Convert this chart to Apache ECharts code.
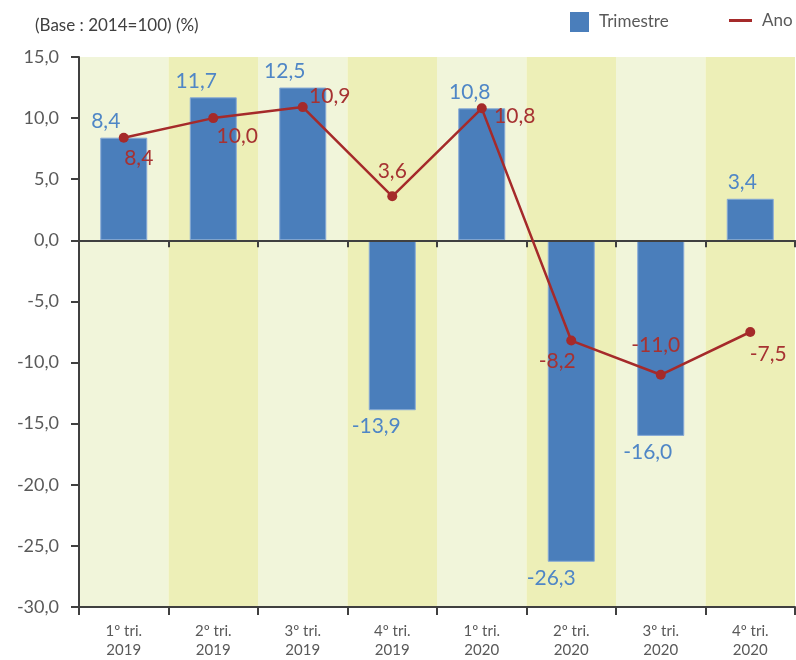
<!DOCTYPE html>
<html>
<head>
<meta charset="utf-8">
<script src="https://cdn.jsdelivr.net/npm/echarts@6/dist/echarts.min.js"></script>
<style>
  html, body { margin: 0; padding: 0; background: #ffffff; }
  #chart { width: 796px; height: 660px; }
</style>
</head>
<body>
<div id="chart"></div>
<script>
// Quarters shown on the category axis
const quarters = ['1º tri.\n2019', '2º tri.\n2019', '3º tri.\n2019', '4º tri.\n2019',
                  '1º tri.\n2020', '2º tri.\n2020', '3º tri.\n2020', '4º tri.\n2020'];

// Quarter-on-quarter change (%)
const trimestre = [8.4, 11.7, 12.5, -13.9, 10.8, -26.3, -16.0, 3.4];

// Year-on-year change (%)
const ano = [8.4, 10.0, 10.9, 3.6, 10.8, -8.2, -11.0, -7.5];

// Value axis range and step
const yMin = -30, yMax = 15, yStep = 5;

// Label placement tweaks (pixel offsets from each mark)
const barLabelShift = [-18, -17, -18, -16, -12, -20, -13, -8];
const anoLabelShift = [[15, 21], [24, 18], [27, -11], [0, -25], [33, 8], [-14, 21], [-5, -30], [18, 22]];

const FONT = 'Lato';
const fmt = v => Number(v).toFixed(1).replace('.', ',');

const barData = trimestre.map((v, i) => ({
  value: v,
  label: {
    position: v < 0 ? 'bottom' : 'top',
    offset: [barLabelShift[i], 0]
  }
}));

const lineData = ano.map((v, i) => ({
  value: v,
  label: { offset: anoLabelShift[i] }
}));

const chart = echarts.init(document.getElementById('chart'), null, { renderer: 'canvas' });

chart.setOption({
  animation: false,
  backgroundColor: '#ffffff',
  textStyle: { fontFamily: FONT },
  title: {
    text: '(Base : 2014=100) (%)',
    left: 30,
    top: 12,
    textStyle: { fontFamily: FONT, fontSize: 17, fontWeight: 'normal', color: '#404040' }
  },
  legend: [
    {
      data: [{ name: 'Trimestre', icon: 'rect', itemStyle: { color: '#4A7EBB', borderWidth: 0 } }],
      left: 565,
      top: 7,
      itemWidth: 19,
      itemHeight: 20,
      textStyle: { fontFamily: FONT, fontSize: 17, color: '#595959', padding: [0, 0, 0, 5] }
    },
    {
      data: [{ name: 'Ano', icon: 'rect' }],
      left: 724,
      top: 7,
      itemWidth: 23,
      itemHeight: 3,
      textStyle: { fontFamily: FONT, fontSize: 17, color: '#595959', padding: [0, 0, 0, 5] }
    }
  ],
  grid: { left: 79, right: 1, top: 57, bottom: 48 },
  xAxis: [
    {
      type: 'category',
      data: quarters,
      position: 'bottom',
      boundaryGap: true,
      axisLine: { onZero: false, lineStyle: { color: '#404040', width: 2 } },
      axisTick: { show: true, length: 8, alignWithLabel: false, lineStyle: { color: '#404040', width: 2 } },
      axisLabel: {
        margin: 15,
        fontFamily: FONT,
        fontSize: 15,
        lineHeight: 19,
        color: '#595959'
      },
      splitLine: { show: false },
      splitArea: {
        show: true,
        areaStyle: { color: ['#F1F5DA', '#EDEFB7'] }
      }
    },
    {
      // axis line drawn through zero
      type: 'category',
      data: quarters,
      position: 'top',
      z: 5,
      boundaryGap: true,
      axisLine: { onZero: true, lineStyle: { color: '#404040', width: 2 } },
      axisTick: { show: true, inside: true, length: 7, lineStyle: { color: '#404040', width: 2 } },
      axisLabel: { show: false },
      splitLine: { show: false },
      splitArea: { show: false }
    }
  ],
  yAxis: {
    type: 'value',
    min: yMin,
    max: yMax,
    interval: yStep,
    axisLine: { show: true, lineStyle: { color: '#404040', width: 2 } },
    axisTick: { show: true, length: 8, lineStyle: { color: '#404040', width: 2 } },
    axisLabel: {
      margin: 20,
      fontFamily: FONT,
      fontSize: 18,
      color: '#595959',
      formatter: fmt
    },
    splitLine: { show: false }
  },
  series: [
    {
      name: 'Trimestre',
      type: 'bar',
      xAxisIndex: 0,
      data: barData,
      barWidth: 47,
      itemStyle: { color: '#4A7EBB', borderColor: '#86A9D6', borderWidth: 1 },
      label: {
        show: true,
        distance: 6,
        fontFamily: FONT,
        fontSize: 21,
        color: '#4F86C6',
        formatter: p => fmt(p.value)
      },
      z: 2
    },
    {
      name: 'Ano',
      type: 'line',
      xAxisIndex: 0,
      data: lineData,
      color: '#A52A2A',
      lineStyle: { color: '#A52A2A', width: 2.5 },
      itemStyle: { color: '#A52A2A' },
      symbol: 'circle',
      symbolSize: 10,
      label: {
        show: true,
        position: 'inside',
        align: 'center',
        verticalAlign: 'middle',
        fontFamily: FONT,
        fontSize: 21,
        color: '#A63232',
        formatter: p => fmt(p.value)
      },
      z: 6
    }
  ]
});
</script>
</body>
</html>
